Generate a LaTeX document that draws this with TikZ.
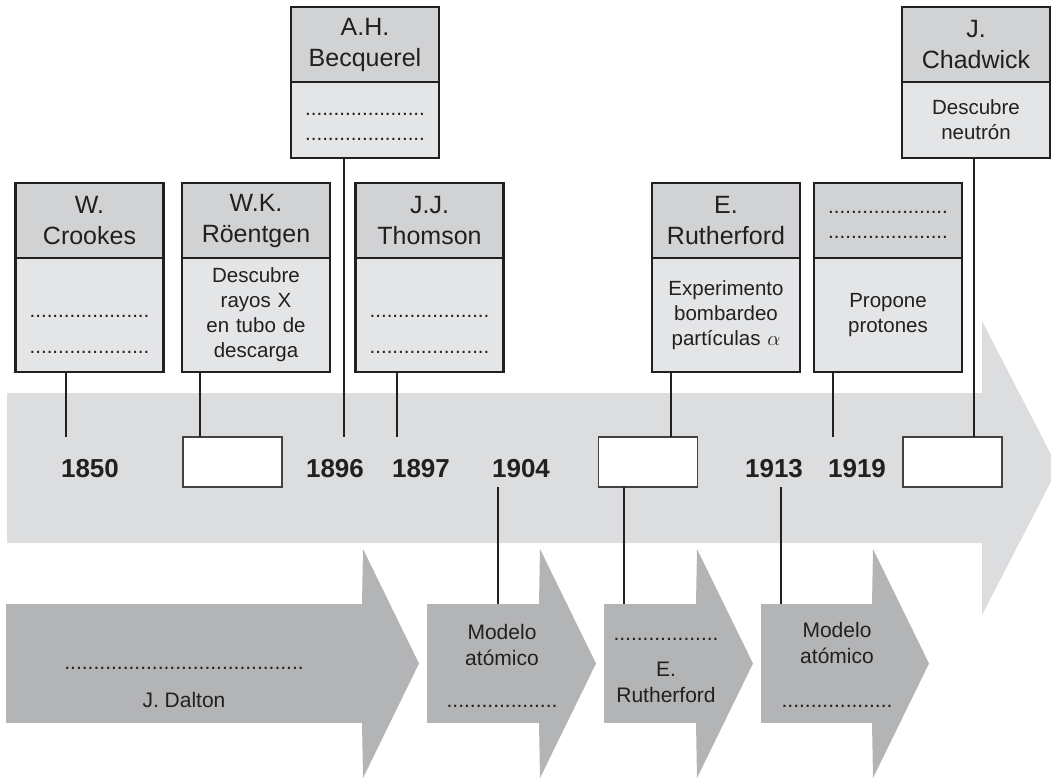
\documentclass[tikz,border=0pt]{standalone}
\usepackage{fontspec}
\setmainfont{Liberation Sans}
\usetikzlibrary{positioning}
\definecolor{ink}{RGB}{35,31,32}
\definecolor{railgray}{RGB}{220,221,223}
\definecolor{lowgray}{RGB}{179,180,182}
\definecolor{headgray}{RGB}{209,210,212}
\definecolor{bodygray}{RGB}{228,229,231}
\newcommand{\dotline}[1]{\foreach \i in {1,...,#1}{.}}

\begin{document}
\begin{tikzpicture}[
    x=1pt, y=-1pt,
    text=ink,
    namebox/.style={rectangle, draw=ink, line width=2.5pt, fill=headgray,
        minimum width=148pt, minimum height=75pt, text width=140pt, align=center,
        inner sep=0pt, outer sep=0pt, font=\fontsize{25}{31}\selectfont},
    factbox/.style={rectangle, draw=ink, line width=2.5pt, fill=bodygray,
        minimum width=148pt, text width=140pt, align=center,
        inner sep=0pt, outer sep=0pt, font=\fontsize{20.5}{25}\selectfont},
    year/.style={font=\fontsize{26}{30}\selectfont\bfseries, minimum height=50pt,
        text height=30pt, text depth=0pt, inner sep=0pt, outer sep=0pt},
    blankbox/.style={rectangle, draw=ink!85, line width=1.5pt, fill=white,
        minimum width=99pt, minimum height=50pt, inner sep=0pt, outer sep=0pt},
    shaft/.style={rectangle, fill=lowgray, minimum height=119pt,
        inner sep=0pt, outer sep=0pt},
    lowtext/.style={align=center, inner sep=0pt, font=\fontsize{21}{26}\selectfont},
    stem/.style={draw=ink, line width=2pt}
]
\clip (0,0) rectangle (1051,777);

% === TIME RAIL ===
\fill[railgray] (7,393) -- (982,393) -- (982,321) -- (1058,468)
    -- (982,615) -- (982,543) -- (7,543) -- cycle;

% === SCIENTISTS ===
\node[namebox] (crookes) at (89.5,220.5) {W.\\Crookes};
\node[factbox, minimum height=114pt, below=0pt of crookes] (crookes-b)
    {\rule{0pt}{40pt}\dotline{21}\\[11pt]\dotline{21}};

\node[namebox] (roentgen) at (256,220.5) {W.K.\\Röentgen};
\node[factbox, minimum height=114pt, below=0pt of roentgen] (roentgen-b)
    {Descubre\\rayos X\\en tubo de\\descarga};

\node[namebox] (becq) at (365,44.5) {A.H.\\Becquerel};
\node[factbox, minimum height=76pt, below=0pt of becq] (becq-b)
    {\rule{0pt}{15pt}\dotline{21}\\\dotline{21}};

\node[namebox] (thomson) at (429.5,220.5) {J.J.\\Thomson};
\node[factbox, minimum height=114pt, below=0pt of thomson] (thomson-b)
    {\rule{0pt}{40pt}\dotline{21}\\[11pt]\dotline{21}};

\node[namebox] (ruth) at (726,220.5) {E.\\Rutherford};
\node[factbox, minimum height=114pt, below=0pt of ruth] (ruth-b)
    {Experimento\\bombardeo\\partículas $\alpha$};

\node[namebox, font=\fontsize{20.5}{25}\selectfont] (prot) at (888,220.5)
    {\rule{0pt}{10pt}\dotline{21}\\\dotline{21}};
\node[factbox, minimum height=114pt, below=0pt of prot] (prot-b)
    {Propone\\protones};

\node[namebox] (chad) at (976,44.5) {J.\\Chadwick};
\node[factbox, minimum height=76pt, below=0pt of chad] (chad-b)
    {Descubre\\neutrón};

% === YEARS AND BLANKS ===
\node[year] (y1850) at (90,462) {1850};
\node[year] (y1896) at (335,462) {1896};
\node[year] (y1897) at (421,462) {1897};
\node[year] (y1904) at (521,462) {1904};
\node[year] (y1913) at (774,462) {1913};
\node[year] (y1919) at (857,462) {1919};

\node[blankbox] (w1) at (232.5,462) {};
\node[blankbox] (w2) at (648,462) {};
\node[blankbox] (w3) at (952.5,462) {};

% === ATOMIC MODELS ===
\node[shaft, minimum width=357pt] (dalton) at (184.5,663.5) {};
\node[shaft, minimum width=113pt] (mod1) at (483.5,663.5) {};
\node[shaft, minimum width=93pt] (ruth2) at (650.5,663.5) {};
\node[shaft, minimum width=112pt] (mod2) at (817,663.5) {};
\foreach \a in {dalton,mod1,ruth2,mod2}
    \fill[lowgray] ([xshift=-1pt]\a.south east) -- ([xshift=-1pt]\a.north east)
        -- ([yshift=55pt]\a.north east) -- ([xshift=56pt]\a.east)
        -- ([yshift=-55pt]\a.south east) -- cycle;

\node[lowtext] (dalton-t) at (184,687) {\dotline{41}\\[12pt]J. Dalton};
\node[lowtext] (mod1-t) at (502,666) {Modelo\\atómico\\[16pt]\dotline{19}};
\node[lowtext] (ruth2-t) at (666,670) {\dotline{18}\\[10pt]E.\\Rutherford};
\node[lowtext] (mod2-t) at (837,664.5) {Modelo\\atómico\\[18pt]\dotline{19}};

% Stems
\draw[stem] (crookes-b.south -| 66,0) -- (y1850.north -| 66,0);
\draw[stem] (roentgen-b.south -| 200,0) -- (w1.north -| 200,0);
\draw[stem] (becq-b.south -| 344,0) -- (y1896.north -| 344,0);
\draw[stem] (thomson-b.south -| 397,0) -- (y1897.north -| 397,0);
\draw[stem] (ruth-b.south -| 671,0) -- (w2.north -| 671,0);
\draw[stem] (prot-b.south -| 833,0) -- (y1919.north -| 833,0);
\draw[stem] (chad-b.south -| 974,0) -- (w3.north -| 974,0);
\draw[stem] (y1904.south -| 498,0) -- (mod1.north -| 498,0);
\draw[stem] (w2.south -| 624,0) -- (ruth2.north -| 624,0);
\draw[stem] (y1913.south -| 781,0) -- (mod2.north -| 781,0);

\end{tikzpicture}
\end{document}
